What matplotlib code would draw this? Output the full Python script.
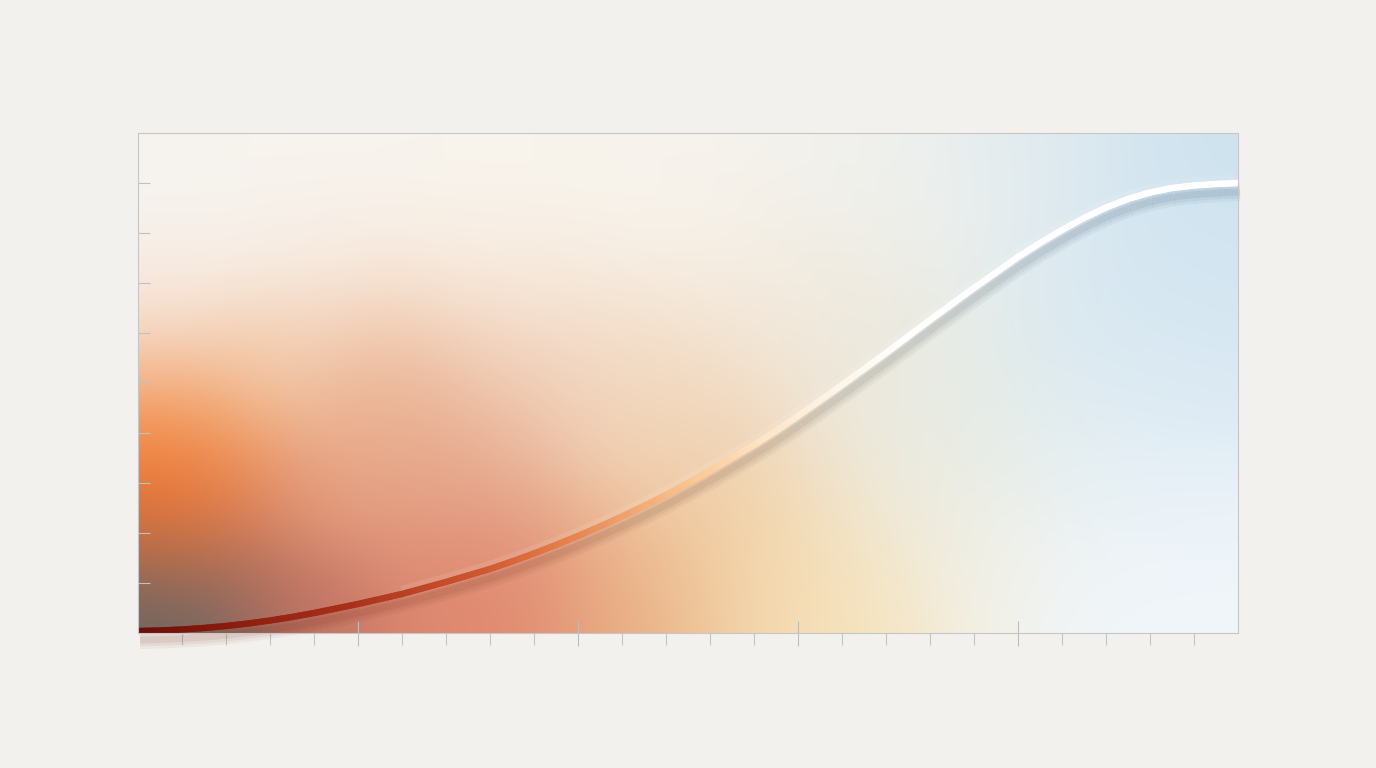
import numpy as np
import matplotlib
matplotlib.use("Agg")
import matplotlib.pyplot as plt
from matplotlib.collections import LineCollection
from matplotlib.colors import LinearSegmentedColormap, to_rgb
import matplotlib.transforms as mtransforms

# ---------------- data ----------------
x_values = [0, 0.5, 1, 1.5, 2, 2.5, 3, 3.5, 4, 4.5, 5, 5.5, 6, 6.5, 7, 7.5, 8, 8.5,
            9, 9.5, 10, 10.5, 11, 11.5, 12, 12.5, 13, 13.5, 14, 14.5, 15, 15.5,
            16, 16.5, 17, 17.5, 18, 18.5, 19, 19.5, 20, 20.5, 21, 21.5, 22, 22.5,
            23, 23.5, 24, 24.5, 25]
y_values = [0.4, 0.5, 0.7, 1.0, 1.4, 1.9, 2.5, 3.2, 4.0, 4.9, 5.8, 6.8, 7.8, 9.0,
            10.2, 11.5, 12.8, 14.3, 15.9, 17.6, 19.4, 21.3, 23.3, 25.4, 27.6, 30.0,
            32.4, 35.0, 37.6, 40.4, 43.4, 46.5, 49.6, 52.8, 56.0, 59.3, 62.6, 65.8,
            69.0, 72.1, 75.2, 78.0, 80.6, 83.0, 85.1, 86.8, 88.1, 89.0, 89.5, 89.8, 90.0]
x_major_ticks = [5, 10, 15, 20]
x_minor_ticks = [1, 2, 3, 4, 6, 7, 8, 9, 11, 12, 13, 14, 16, 17, 18, 19, 21, 22, 23, 24]
y_ticks = [10, 20, 30, 40, 50, 60, 70, 80, 90]
x_range = (0, 25)
y_range = (0, 100)

PAPER = "#f2f1ed"

fig = plt.figure(figsize=(13.76, 7.68), dpi=100, facecolor=PAPER)
ax = fig.add_axes([138 / 1376, 135 / 768, 1100 / 1376, 500 / 768])
ax.set_xlim(*x_range)
ax.set_ylim(*y_range)

# ---------------- background wash (decorative) ----------------
S, T = 75.0, 45.0   # broad / tight blending radius (pixels)
anchors = [
    # top band, nearly white
    (0.01, 0.99, "#f6f4f0", S), (0.15, 0.97, "#f7f5f0", S), (0.32, 0.97, "#f8f5ef", S),
    (0.48, 0.97, "#f7f4ee", S), (0.62, 0.96, "#f2f2ee", S), (0.72, 0.88, "#edf0ed", S),
    (0.01, 0.86, "#f7f2ed", S), (0.15, 0.84, "#f8f3ee", S), (0.32, 0.80, "#f9f3ea", S),
    (0.48, 0.82, "#f8f3eb", S), (0.57, 0.67, "#f5ece0", S), (0.64, 0.60, "#ece8dc", S),
    # blue right side
    (0.83, 0.95, "#dfeaf0", S), (0.98, 0.98, "#cde2ef", S), (0.98, 0.80, "#d2e5f1", S),
    (0.89, 0.60, "#d8e8f2", S), (0.98, 0.50, "#d9e8f2", S), (0.89, 0.33, "#e6f0f6", S),
    (0.98, 0.20, "#ecf3f9", S), (0.89, 0.07, "#f1f6fa", S), (0.98, 0.03, "#f3f7fb", S),
    (0.78, 0.45, "#e4ece9", S), (0.70, 0.33, "#ecebdf", S), (0.78, 0.15, "#f2f1e8", S),
    # warm bottom band
    (0.64, 0.07, "#f7e6c0", S), (0.57, 0.13, "#f3d5a8", S), (0.45, 0.07, "#eab286", S),
    (0.51, 0.40, "#f0cfae", S), (0.45, 0.53, "#f2dcc6", S), (0.32, 0.43, "#ecbfa3", S),
    (0.32, 0.03, "#e28870", S), (0.26, 0.30, "#e3a085", S), (0.25, 0.12, "#d8806a", S),
    (0.17, 0.06, "#b86c5e", T), (0.19, 0.47, "#efb890", S), (0.32, 0.62, "#f5e2d2", S),
    (0.22, 0.38, "#e8a888", S),
    # left edge (tight blending)
    (0.00, 0.01, "#666462", T), (0.05, 0.04, "#726862", T), (0.01, 0.13, "#946a5a", T),
    (0.10, 0.11, "#a46a5e", T), (0.01, 0.21, "#dc6e36", T), (0.07, 0.21, "#d4744e", T),
    (0.01, 0.30, "#f2762e", T), (0.07, 0.31, "#f0823e", T), (0.14, 0.26, "#e08e6c", T),
    (0.01, 0.39, "#f38a45", T), (0.08, 0.43, "#f2a26a", T), (0.01, 0.49, "#f4b080", T),
    (0.10, 0.56, "#f3caa8", T), (0.01, 0.59, "#f5d3bd", T), (0.01, 0.70, "#f7eae0", T),
    (0.15, 0.66, "#f6e6d8", S),
]
H, W = 200, 440
U, V = np.meshgrid(np.linspace(0, 1, W), np.linspace(0, 1, H))
logs, cols = [], []
for au, av, c, s in anchors:
    d2 = ((U - au) * 1100) ** 2 + ((V - av) * 500) ** 2
    logs.append(-d2 / (2 * s ** 2))
    cols.append(np.array(to_rgb(c)))
logs = np.array(logs)
logs -= logs.max(axis=0, keepdims=True)
w = np.exp(logs)
img = np.tensordot(w, np.array(cols), axes=([0], [0])) / w.sum(axis=0)[..., None]
ax.imshow(np.clip(img, 0, 1), extent=(*x_range, *y_range), origin="lower",
          aspect="auto", zorder=0, interpolation="bicubic")

# ---------------- curve ----------------
xs = np.array(x_values, dtype=float)
ys = np.array(y_values, dtype=float)
sub = 6
px, py = [], []
for i in range(len(xs) - 1):
    t = np.arange(sub) / sub
    px.extend(xs[i] + (xs[i + 1] - xs[i]) * t)
    py.extend(ys[i] + (ys[i + 1] - ys[i]) * t)
px.append(xs[-1]); py.append(ys[-1])
px = np.array(px); py = np.array(py)
pts = np.column_stack([px, py]).reshape(-1, 1, 2)
segs = np.concatenate([pts[:-1], pts[1:]], axis=1)
frac = 0.5 * (px[:-1] + px[1:]) / x_range[1]

line_cmap = LinearSegmentedColormap.from_list("curve", [
    (0.00, "#6a0e06"), (0.08, "#881c0c"), (0.19, "#a8301a"), (0.32, "#d25a30"),
    (0.385, "#e37e48"), (0.45, "#f2a570"), (0.51, "#fbc991"), (0.57, "#fde5c5"),
    (0.64, "#fff5ea"), (0.70, "#ffffff"), (1.00, "#ffffff")])
line_colors = line_cmap(frac)

shadow_cmap = LinearSegmentedColormap.from_list("shadow", [
    (0.0, "#7a1a0c"), (0.25, "#6a2410"), (0.5, "#5a3a22"), (0.7, "#3a4a50"),
    (0.85, "#1e3a58"), (1.0, "#1e3a58")])

# drop shadow (offset down and a little right)
for dx, dy, lw, a in [(2, -9, 13, 0.05), (2, -9, 9, 0.06), (2, -9, 5, 0.08)]:
    tr = mtransforms.offset_copy(ax.transData, fig=fig, x=dx, y=dy, units="dots")
    c = shadow_cmap(frac)
    c[:, 3] = a
    sh = LineCollection(segs, colors=c, linewidths=lw, transform=tr,
                        capstyle="butt", zorder=2, clip_on=False)
    ax.add_collection(sh)

# soft light halo on the upper side (not over the dark start of the curve)
tr = mtransforms.offset_copy(ax.transData, fig=fig, x=0, y=2, units="dots")
ax.plot(xs[12:], ys[12:], color="white", alpha=0.10, lw=9, transform=tr,
        solid_capstyle="butt", solid_joinstyle="round", zorder=2.5)

lc = LineCollection(segs, colors=line_colors, linewidths=4.6,
                    capstyle="round", joinstyle="round", zorder=3)
ax.add_collection(lc)

# ---------------- axes styling ----------------
ax.set_xticks(x_major_ticks)
ax.set_xticks(x_minor_ticks, minor=True)
ax.set_yticks(y_ticks)
ax.tick_params(axis="x", which="major", direction="inout", length=18, width=0.8,
               color="#bdbdbd", labelbottom=False)
ax.tick_params(axis="x", which="minor", direction="out", length=8.5, width=0.8,
               color="#c4c4c4")
ax.tick_params(axis="y", which="major", direction="in", length=8.5, width=0.8,
               color="#c0c0c0", labelleft=False)
for s in ax.spines.values():
    s.set_color("#c6c6c6")
    s.set_linewidth(0.8)
    s.set_zorder(4)

fig.savefig("out.png", dpi=100, facecolor=PAPER)
